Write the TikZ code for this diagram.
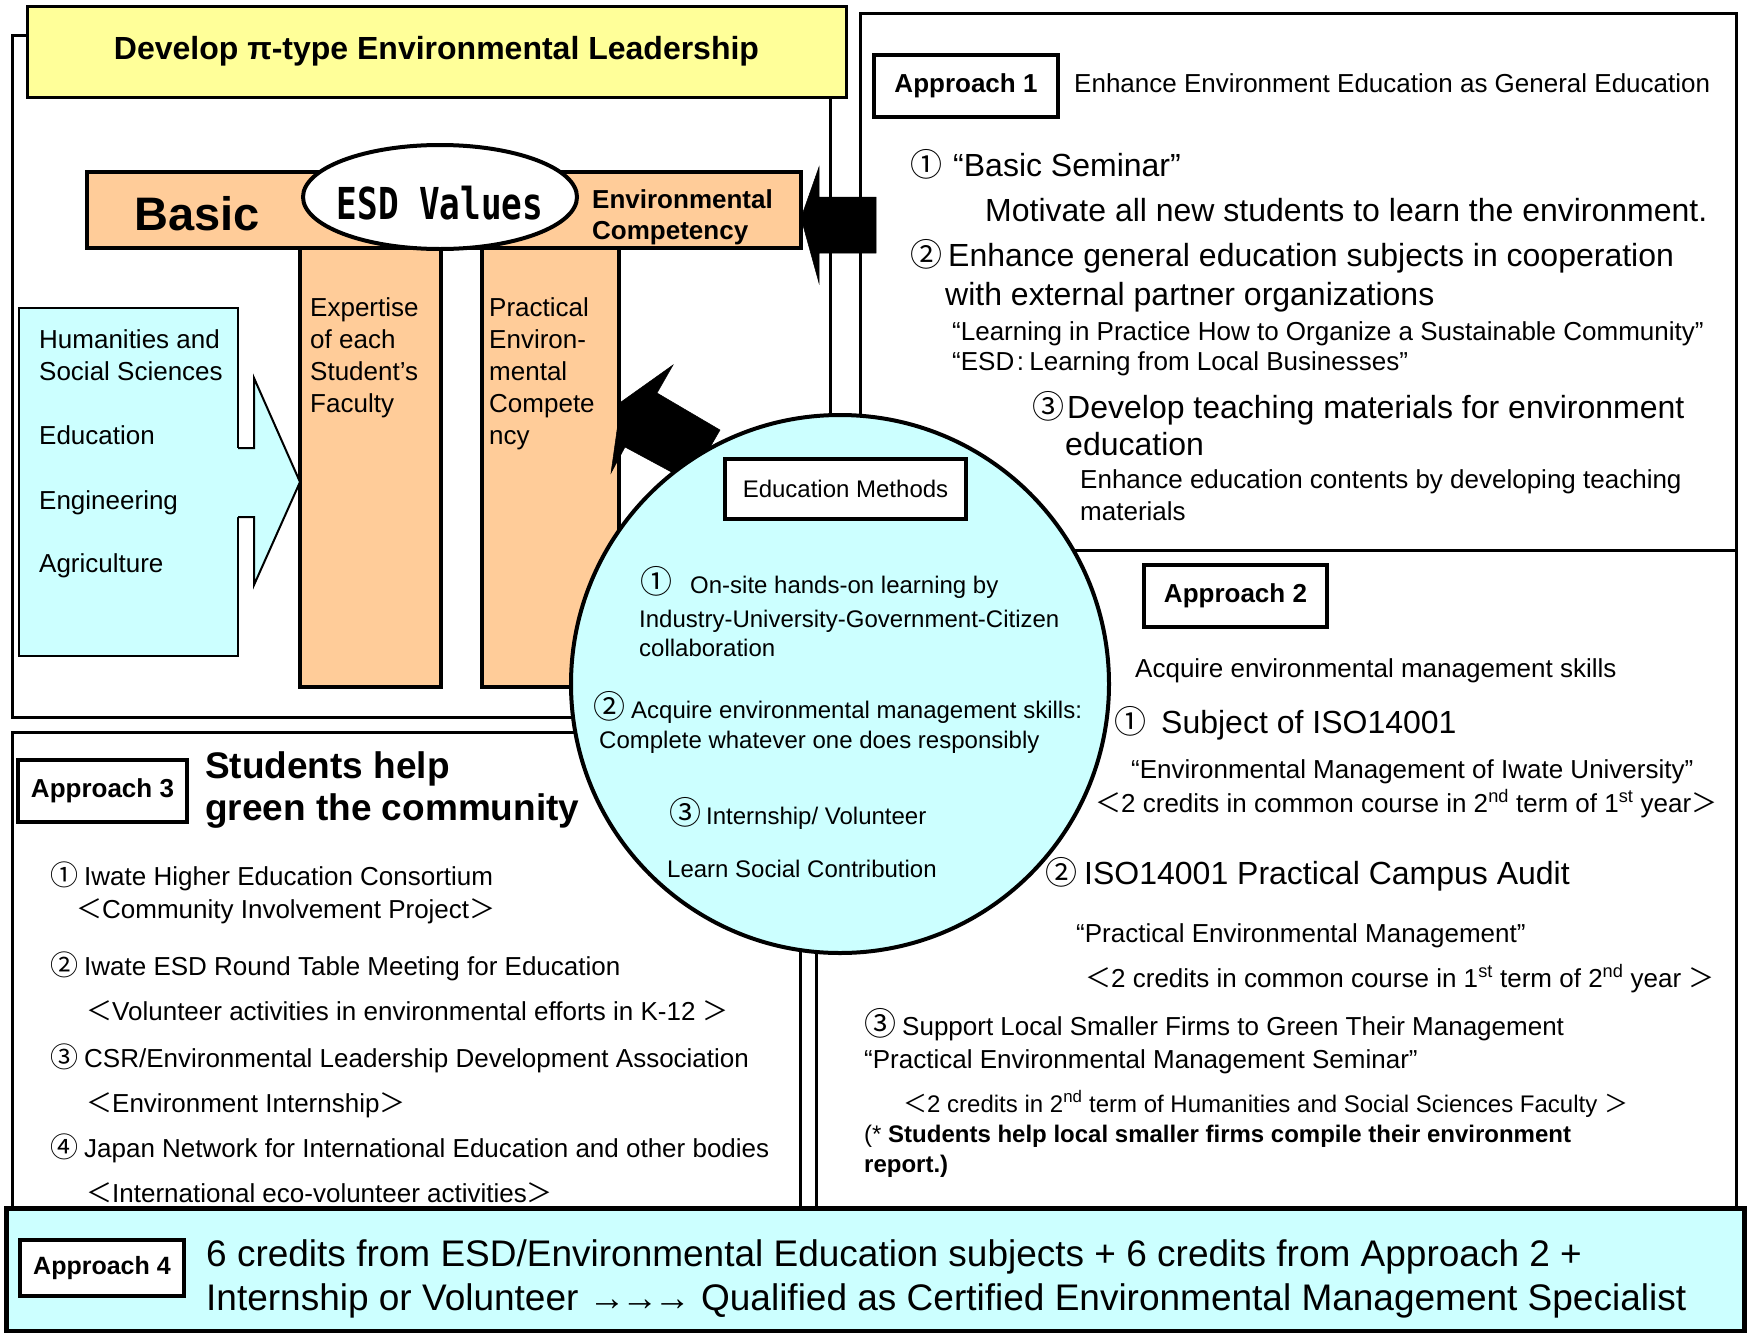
\documentclass[tikz,border=0pt]{standalone}
\usepackage{fontspec}
\setmainfont{Liberation Sans}
\newfontfamily\cjk{Noto Sans CJK JP}
\newfontfamily\monob{DejaVu Sans Mono}
\usetikzlibrary{shapes.geometric}
\newcommand\fz[1]{\fontsize{#1}{#1}\selectfont}
\newcommand\cn[1]{{\cjk #1}}
\definecolor{yel}{HTML}{FFFF99}
\definecolor{peach}{HTML}{FFCC99}
\definecolor{cyanl}{HTML}{CCFFFF}
\begin{document}
\begin{tikzpicture}[x=1pt,y=-1pt,
  frame/.style={draw, line width=3pt},
  lbl/.style={draw, line width=3.5pt, fill=white, inner sep=0pt, font=\bfseries\fz{26}},
  T/.style={inner sep=0pt, anchor=base west},
  s26/.style={T, font=\fz{26}},
  s32/.style={T, font=\fz{32}},
  s24/.style={T, font=\fz{24}},
  s37/.style={T, font=\fz{37}},
  num/.style={T, font=\cjk\fz{32}},
  numsm/.style={T, font=\cjk\fz{28}},
  blk/.style={fill=black, draw=black, line width=0.5pt, line join=miter}
]
\useasboundingbox (0,0) rectangle (1749,1333);
\fill[white] (0,0) rectangle (1749,1333);

% ---------- frames ----------
\draw[frame] (12,35) rectangle (830,717);
\node[draw, line width=3pt, fill=yel, minimum width=819pt, minimum height=91pt, inner sep=0pt,
      font=\bfseries\fz{32}] (title) at (436.5,51.5) {Develop π-type Environmental Leadership};
\draw[frame] (860,13) rectangle (1736,550);
\draw[frame] (816,550) rectangle (1736,1208);
\draw[frame] (12,732) rectangle (800,1208);

% ---------- black arrow from Approach 1 ----------
\filldraw[blk] (876,197) -- (819,197) -- (819,167) -- (801,218) -- (819,283) -- (819,253) -- (876,253) -- cycle;

% ---------- pi structure ----------
\draw[line width=4pt, fill=peach] (300,248) rectangle (441,687);
\draw[line width=4pt, fill=peach] (482,248) rectangle (619,687);
\draw[line width=4pt, fill=peach] (87,172) rectangle (801,248);
\node[ellipse, draw, line width=4pt, fill=white, minimum width=274pt, minimum height=104pt, inner sep=0pt]
  (esd) at (440,197) {};
\node[inner sep=0pt] (esdt) at (440,203) {\monob\bfseries\fz{44}\scalebox{0.78}[1]{ESD Values}};

% ---------- faculties box ----------
\filldraw[fill=cyanl, draw=black, line width=2pt] (19,308) rectangle (238,656);
\fill[cyanl] (236,448) -- (254,448) -- (254,378) -- (300,482) -- (254,585) -- (254,517) -- (236,517) -- cycle;
\draw[line width=2pt, line join=miter] (238,448) -- (254,448) -- (254,378) -- (300,482) -- (254,585) -- (254,517) -- (238,517);

% ---------- black arrow from circle ----------
\filldraw[blk] (720,430) -- (657,393) -- (673,365) -- (621,402) -- (611,473) -- (625,447) -- (690,482) -- cycle;

% ---------- circle ----------
\node[circle, draw, line width=4pt, fill=cyanl, minimum size=538pt, inner sep=0pt] (circ) at (840,684) {};
\node[draw, line width=3.5pt, fill=white, minimum width=241pt, minimum height=60pt, inner sep=0pt,
      font=\fz{24}] (em) at (845.5,489) {Education Methods};

% ---------- Approach 4 ----------
\draw[line width=5pt, fill=cyanl] (6,1208) rectangle (1744,1331);
\node[lbl, minimum width=164pt, minimum height=56pt, font=\bfseries\fz{25}] (a4) at (102,1268) {Approach 4};
\node[s37] (a4l1) at (206,1266) {6 credits from ESD/Environmental Education subjects + 6 credits from Approach 2 +};
\node[s37] (a4l2) at (206,1310) {Internship or Volunteer →\kern-0.12em→\kern-0.12em→ Qualified as Certified Environmental Management Specialist};

% ---------- texts: pi structure ----------
\node[T, font=\bfseries\fz{47}] (basic) at (134,230) {Basic};
\node[T, font=\bfseries\fz{26}] (envc1) at (592,208) {Environmental};
\node[T, font=\bfseries\fz{26}] (envc2) at (592,239) {Competency};
\node[s26] (c1a) at (310,316) {Expertise};
\node[s26] (c1b) at (310,348) {of each};
\node[s26] (c1c) at (310,380) {Student’s};
\node[s26] (c1d) at (310,412) {Faculty};
\node[s26] (c2a) at (489,316) {Practical};
\node[s26] (c2b) at (489,348) {Environ-};
\node[s26] (c2c) at (489,380) {mental};
\node[s26] (c2d) at (489,412) {Compete};
\node[s26] (c2e) at (489,444) {ncy};
\node[s26] (f1) at (39,348) {Humanities and};
\node[s26] (f2) at (39,380) {Social Sciences};
\node[s26] (f3) at (39,444) {Education};
\node[s26] (f4) at (39,509) {Engineering};
\node[s26] (f5) at (39,572) {Agriculture};

% ---------- Approach 1 ----------
\node[lbl, minimum width=184pt, minimum height=62pt] (a1) at (966,86) {Approach 1};
\node[s26] (a1t) at (1074,92) {Enhance Environment Education as General Education};
\node[num] (a1n1) at (910,176) {①};
\node[s32] (a1i1) at (953,176) {“Basic Seminar”};
\node[s32] (a1i1b) at (985,221) {Motivate all new students to learn the environment.};
\node[num] (a1n2) at (910,266) {②};
\node[s32] (a1i2) at (948,266) {Enhance general education subjects in cooperation};
\node[s32] (a1i2b) at (945,305) {with external partner organizations};
\node[s26] (a1i2c) at (952,340) {“Learning in Practice How to Organize a Sustainable Community”};
\node[s26] (a1i2d) at (952,370) {“ESD\hspace{0.1em}:\hspace{0.2em}Learning from Local Businesses”};
\node[num] (a1n3) at (1032,418) {③};
\node[s32] (a1i3) at (1067,418) {Develop teaching materials for environment};
\node[s32] (a1i3b) at (1065,455) {education};
\node[s26] (a1i3c) at (1080,488) {Enhance education contents by developing teaching};
\node[s26] (a1i3d) at (1080,520) {materials};

% ---------- Approach 2 ----------
\node[lbl, minimum width=183pt, minimum height=62pt] (a2) at (1235.5,596) {Approach 2};
\node[s26] (a2t) at (1135,677) {Acquire environmental management skills};
\node[num] (a2n1) at (1114,733) {①};
\node[s32] (a2i1) at (1161,733) {Subject of ISO14001};
\node[s26] (a2i1b) at (1131,778) {“Environmental Management of Iwate University”};
\node[s26] (a2i1c) at (1095,812) {\cn{＜}2 credits in common course in 2\textsuperscript{nd} term of 1\textsuperscript{st} year\cn{＞}};
\node[num] (a2n2) at (1045,884) {②};
\node[s32] (a2i2) at (1084,884) {ISO14001 Practical Campus Audit};
\node[s26] (a2i2b) at (1076,942) {“Practical Environmental Management”};
\node[s26] (a2i2c) at (1085,987) {\cn{＜}2 credits in common course in 1\textsuperscript{st} term of 2\textsuperscript{nd} year \cn{＞}};
\node[num] (a2n3) at (864,1035) {③};
\node[s26] (a2i3) at (902,1035) {Support Local Smaller Firms to Green Their Management};
\node[s26] (a2i3b) at (864,1068) {“Practical Environmental Management Seminar”};
\node[s24] (a2i3c) at (903,1112) {\cn{＜}2 credits in 2\textsuperscript{nd} term of Humanities and Social Sciences Faculty \cn{＞}};
\node[s24] (a2i3d) at (864,1142) {(* \textbf{Students help local smaller firms compile their environment}};
\node[T, font=\bfseries\fz{24}] (a2i3e) at (864,1172) {report.)};

% ---------- Approach 3 ----------
\node[lbl, minimum width=169pt, minimum height=62pt] (a3) at (102.5,791) {Approach 3};
\node[T, font=\bfseries\fz{37}] (a3t1) at (205,778) {Students help};
\node[T, font=\bfseries\fz{37}] (a3t2) at (205,820) {green the community};
\node[numsm] (a3n1) at (50,885) {①};
\node[s26] (a3i1) at (84,885) {Iwate Higher Education Consortium};
\node[s26] (a3i1b) at (76,918) {\cn{＜}Community Involvement Project\cn{＞}};
\node[numsm] (a3n2) at (50,975) {②};
\node[s26] (a3i2) at (84,975) {Iwate ESD Round Table Meeting for Education};
\node[s26] (a3i2b) at (86,1020) {\cn{＜}Volunteer activities in environmental efforts in K-12 \cn{＞}};
\node[numsm] (a3n3) at (50,1067) {③};
\node[s26] (a3i3) at (84,1067) {CSR/Environmental Leadership Development Association};
\node[s26] (a3i3b) at (86,1112) {\cn{＜}Environment Internship\cn{＞}};
\node[numsm] (a3n4) at (50,1157) {④};
\node[s26] (a3i4) at (84,1157) {Japan Network for International Education and other bodies};
\node[s26] (a3i4b) at (86,1202) {\cn{＜}International eco-volunteer activities\cn{＞}};

% ---------- circle texts ----------
\node[num] (m1n) at (640,593) {①};
\node[s24] (m1) at (690,593) {On-site hands-on learning by};
\node[s24] (m1b) at (639,627) {Industry-University-Government-Citizen};
\node[s24] (m1c) at (639,656) {collaboration};
\node[num] (m2n) at (593,718) {②};
\node[s24] (m2) at (631,718) {Acquire environmental management skills:};
\node[s24] (m2b) at (599,748) {Complete whatever one does responsibly};
\node[num] (m3n) at (669,824) {③};
\node[s24] (m3) at (706,824) {Internship/ Volunteer};
\node[s24] (m3b) at (667,877) {Learn Social Contribution};
\end{tikzpicture}
\end{document}
